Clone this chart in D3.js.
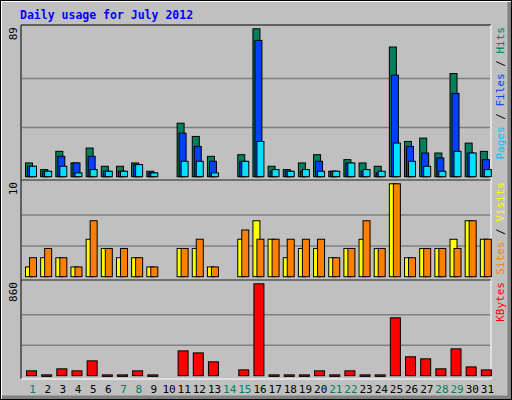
<!DOCTYPE html>
<html lang="en">
<head>
<meta charset="UTF-8">
<title>Daily usage for July 2012</title>
<script src="https://d3js.org/d3.v7.min.js"></script>
<style>
  body { margin: 0; background: #fff; }
  text { font-family: "DejaVu Sans Mono", monospace; }
</style>
</head>
<body>
<svg id="chart" width="512" height="400"></svg>
<script>
const days = d3.range(1, 32);
const weekends = [1, 7, 8, 14, 15, 21, 22, 28, 29];
const hits  = [8,4,15,8,17,6,6,8,3,0,32,24,12,0,13,89,6,4,8,13,3,10,8,6,78,21,23,14,62,20,15];
const files = [6,3,12,8,12,3,3,7,2,0,26,18,9,0,9,82,3,3,3,9,3,8,3,2,61,18,14,11,50,14,10];
const pages = [6,3,6,2,4,3,3,7,2,0,9,9,2,0,9,21,4,3,4,3,3,8,4,3,20,9,6,3,15,14,4];
const visits = [1,2,2,1,4,3,2,2,1,0,3,3,1,0,4,6,4,2,3,3,2,3,4,3,10,2,3,3,4,6,4];
const sites  = [2,3,2,1,6,3,3,2,1,0,3,4,1,0,5,4,4,4,4,4,2,3,6,3,10,2,3,3,3,6,4];
const kbytes = [41,3,60,41,135,3,3,41,3,0,229,210,126,0,50,860,3,3,3,41,3,41,3,3,540,173,154,60,248,78,50];

const svg = d3.select("#chart");
const left = 21, right = 491;

// frame
svg.append("rect").attr("x", 0).attr("y", 0).attr("width", 512).attr("height", 400).attr("fill", "#c0c0c0");
svg.append("path").attr("d", "M1,399 V1 H511").attr("stroke", "#fff").attr("stroke-width", 2).attr("fill", "none");
svg.append("path").attr("d", "M2,397.5 H509.5 V2").attr("stroke", "#808080").attr("stroke-width", 4).attr("fill", "none");
svg.append("rect").attr("x", 0.5).attr("y", 0.5).attr("width", 511).attr("height", 399).attr("fill", "none").attr("stroke", "#000");

svg.append("text").attr("x", 20).attr("y", 19).attr("fill", "#0000ff")
  .attr("font-size", 11.5).attr("font-weight", "bold").text("Daily usage for July 2012");

const x = d3.scaleBand().domain(days).range([left, right]);

function panel(top, bottom, base, peak, max, maxLabel, series, labels) {
  // frame
  svg.append("path").attr("d", `M${left},${bottom} V${top} H${right}`).attr("stroke", "#000").attr("fill", "none");
  svg.append("path").attr("d", `M${left},${bottom} H${right} V${top}`).attr("stroke", "#fff").attr("fill", "none");
  const y = d3.scaleLinear().domain([0, max]).range([base, peak]);
  [max / 3, 2 * max / 3].forEach(v => {
    svg.append("line").attr("x1", left + 1).attr("x2", right - 1)
      .attr("y1", y(v)).attr("y2", y(v)).attr("stroke", "#808080").attr("stroke-width", 1.5);
  });
  series.forEach(s => {
    svg.append("g").selectAll("rect").data(s.values).join("rect")
      .attr("x", (d, i) => x(days[i]) + s.off + 0.5)
      .attr("width", s.w)
      .attr("y", d => y(d) - 0.5)
      .attr("height", d => d > 0 ? Math.max(base - y(d), 1) + 0.5 : 0)
      .attr("fill", s.color).attr("stroke", "#000").attr("stroke-width", 1);
  });
  svg.append("text").attr("transform", `translate(17,${top + 2}) rotate(-90)`)
    .attr("text-anchor", "end").attr("font-size", 11).text(maxLabel);
  const t = svg.append("text").attr("transform", `translate(504,${top + 2}) rotate(-90)`)
    .attr("text-anchor", "end").attr("font-size", 11);
  labels.forEach((l, i) => {
    if (i > 0) t.append("tspan").attr("fill", "#000").text(" / ");
    t.append("tspan").attr("fill", l.color).text(l.text);
  });
}

panel(25, 180, 176.7, 29.3, 89, "89", [
  { values: hits, color: "#00805c", off: 4, w: 7 },
  { values: files, color: "#0040ff", off: 6, w: 7 },
  { values: pages, color: "#00e0ff", off: 8, w: 7 }
], [{ text: "Pages", color: "#00c0ff" }, { text: "Files", color: "#0040ff" }, { text: "Hits", color: "#00805c" }]);

panel(180, 280, 276.7, 184.3, 10, "10", [
  { values: visits, color: "#ffff00", off: 4, w: 7 },
  { values: sites, color: "#ff8000", off: 8, w: 7 }
], [{ text: "Sites", color: "#ff8000" }, { text: "Visits", color: "#ffff00" }]);

panel(280, 379, 375.7, 284.3, 860, "860", [
  { values: kbytes, color: "#ff0000", off: 5, w: 10 }
], [{ text: "KBytes", color: "#ff0000" }]);

svg.append("g").selectAll("text").data(days).join("text")
  .attr("x", d => x(d) + x.bandwidth() / 2 + 4)
  .attr("y", 393).attr("text-anchor", "middle").attr("font-size", 11)
  .attr("fill", d => weekends.includes(d) ? "#00805c" : "#000")
  .text(d => d);
</script>
</body>
</html>
